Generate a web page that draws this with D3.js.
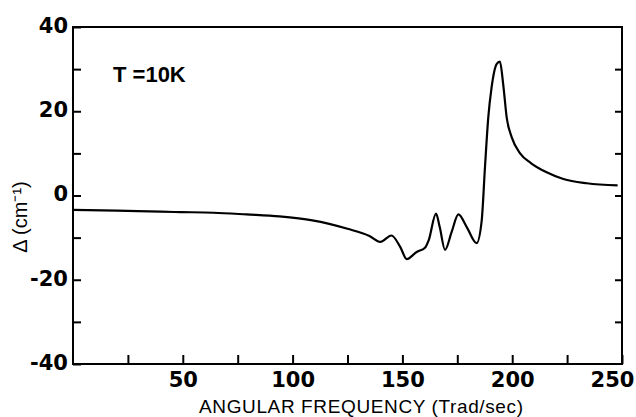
<!DOCTYPE html>
<html>
<head>
<meta charset="utf-8">
<script src="https://cdn.jsdelivr.net/npm/d3@7"></script>
<style>
    body { margin: 0; background: #fff; }
    svg { display: block; }
    .tick text { font-family: "DejaVu Sans", sans-serif; font-weight: bold; font-size: 21px; fill: #000; }
    .tick line { stroke: #000; stroke-width: 2; }
</style>
</head>
<body>
<svg id="svg"></svg>
<script>
'use strict';

// ================================= data ======================================
var freq = [0, 20, 40, 49, 64, 79, 94, 109, 125, 135, 140, 145, 149, 152, 156.5, 160.3, 162,
    165.3, 167, 169.4, 172.4, 175.5, 179.3, 183.8, 186.1, 187.6, 189.1, 190.6, 192.9, 194.4, 195.9,
    197.5, 199.8, 203.6, 208.5, 215.7, 223.3, 234, 248];
var delta = [-3.4, -3.6, -3.85, -3.94, -4.09, -4.5, -4.97, -5.9, -7.9, -9.6, -11.0, -9.5, -12.2, -15.1,
    -13.4, -12.4, -10.6, -4.3, -7.5, -12.9, -8.7, -4.5, -7.5, -11.3, -6, 6.7, 18.5, 25.6, 31.2,
    31.8, 26.4, 18.5, 13.8, 10.0, 7.7, 5.5, 3.9, 2.9, 2.4];

var xTicks = [25, 50, 75, 100, 125, 150, 175, 200, 225, 250];
var yTicks = [-40, -30, -20, -10, 0, 10, 20, 30, 40];
var xLabelled = [50, 100, 150, 200, 250];
var yLabelled = [-40, -20, 0, 20, 40];

// ================================= layout ======================================
var width = 636;
var height = 417;
// plot frame in px (note: "top" is taken by window.top)
var plotLeft = 73, plotRight = 622, plotTop = 27, plotBottom = 364;

var svg = d3.select("#svg")
    .attr("width", width)
    .attr("height", height);

var x = d3.scaleLinear().domain([0, 250]).range([plotLeft, plotRight]);
var y = d3.scaleLinear().domain([-40, 40]).range([plotBottom, plotTop]);

// frame
svg.append("rect")
    .attr("x", plotLeft)
    .attr("y", plotTop)
    .attr("width", plotRight - plotLeft)
    .attr("height", plotBottom - plotTop)
    .attr("fill", "none")
    .attr("stroke", "#000")
    .attr("stroke-width", 2);

var xAxis = svg.append("g")
    .attr("transform", "translate(0," + plotBottom + ")")
    .call(d3.axisBottom(x)
        .tickValues(xTicks)
        .tickSizeInner(-9)
        .tickSizeOuter(0)
        .tickPadding(8)
        .tickFormat(d => xLabelled.includes(d) ? d : ""));
xAxis.select(".domain").remove();
// 250 sits in the corner, pull it in a bit
xAxis.selectAll(".tick text").filter(d => d === 250).attr("dx", "-10");

var yAxis = svg.append("g")
    .attr("transform", "translate(" + plotLeft + ",0)")
    .call(d3.axisLeft(y)
        .tickValues(yTicks)
        .tickSizeInner(-8)
        .tickSizeOuter(0)
        .tickPadding(5)
        .tickFormat(d => yLabelled.includes(d) ? d : ""));
yAxis.select(".domain").remove();
yAxis.selectAll(".tick text").attr("dy", "0.25em");

var yAxisRight = svg.append("g")
    .attr("transform", "translate(" + plotRight + ",0)")
    .call(d3.axisRight(y)
        .tickValues(yTicks.slice(1, -1))
        .tickSizeInner(-7)
        .tickSizeOuter(0)
        .tickFormat(""));
yAxisRight.select(".domain").remove();

// ================================= curve ======================================
var points = freq.map((f, i) => [f, delta[i]]);

var line = d3.line()
    .x(d => x(d[0]))
    .y(d => y(d[1]))
    .curve(d3.curveMonotoneX);

svg.append("path")
    .datum(points)
    .attr("d", line)
    .attr("fill", "none")
    .attr("stroke", "#000")
    .attr("stroke-width", 2.2)
    .attr("stroke-linejoin", "round");

// ================================= texts ======================================
svg.append("text")
    .attr("x", 199)
    .attr("y", 413)
    .attr("textLength", 324)
    .attr("lengthAdjust", "spacing")
    .style("font-family", "Liberation Sans, sans-serif")
    .style("font-size", "19px")
    .text("ANGULAR FREQUENCY (Trad/sec)");

svg.append("text")
    .attr("transform", "translate(27,217) rotate(-90)")
    .attr("text-anchor", "middle")
    .style("font-family", "Liberation Sans, sans-serif")
    .style("font-size", "20px")
    .text("Δ (cm⁻¹)");

svg.append("text")
    .attr("x", 113)
    .attr("y", 82)
    .style("font-family", "Liberation Sans, sans-serif")
    .style("font-weight", "bold")
    .style("font-size", "22px")
    .text("T =10K");
</script>
</body>
</html>
